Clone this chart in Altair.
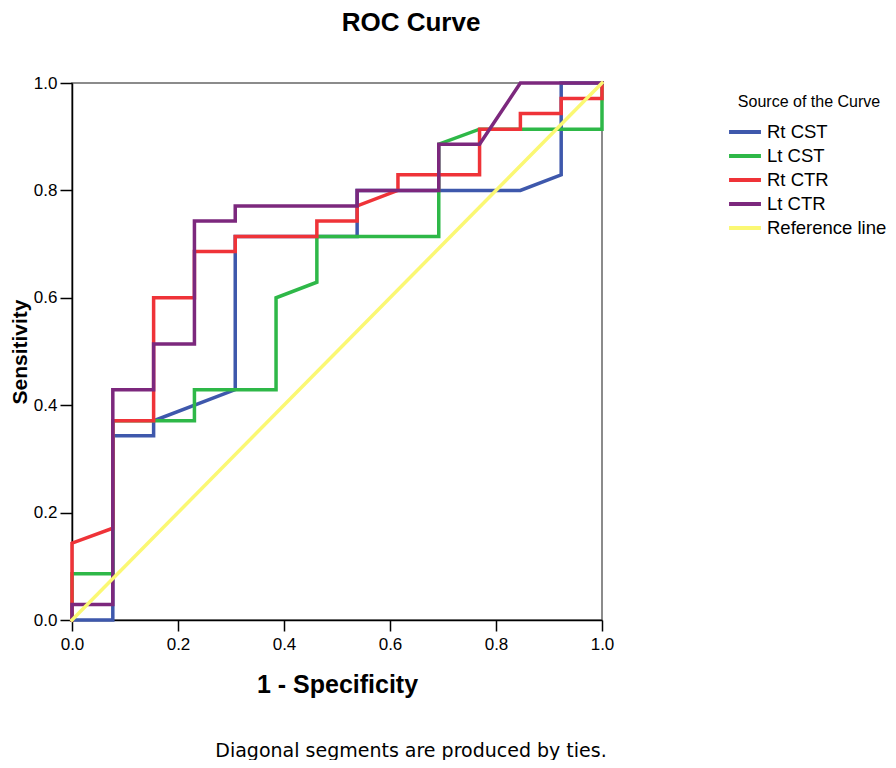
import altair as alt
import pandas as pd

# ---- data ----
series = ["Rt CST", "Lt CST", "Rt CTR", "Lt CTR", "Reference line"]
colors = ["#3e58ac", "#2eb848", "#ef3338", "#7c287d", "#fbf873"]

rt_cst_x = [0, 0.077, 0.077, 0.154, 0.154, 0.308, 0.308, 0.538, 0.538, 0.846, 0.923, 0.923, 1.0]
rt_cst_y = [0, 0, 0.343, 0.343, 0.371, 0.429, 0.714, 0.714, 0.8, 0.8, 0.829, 1.0, 1.0]

lt_cst_x = [0, 0, 0.077, 0.077, 0.231, 0.231, 0.385, 0.385, 0.462, 0.462, 0.692, 0.692, 0.769, 1.0, 1.0]
lt_cst_y = [0, 0.086, 0.086, 0.371, 0.371, 0.429, 0.429, 0.6, 0.629, 0.714, 0.714, 0.886, 0.914, 0.914, 1.0]

rt_ctr_x = [0, 0, 0.077, 0.077, 0.154, 0.154, 0.231, 0.231, 0.308, 0.308, 0.462, 0.462,
            0.538, 0.538, 0.615, 0.615, 0.769, 0.769, 0.846, 0.846, 0.923, 0.923, 1.0, 1.0]
rt_ctr_y = [0, 0.143, 0.171, 0.371, 0.371, 0.6, 0.6, 0.686, 0.686, 0.714, 0.714, 0.743,
            0.743, 0.771, 0.8, 0.829, 0.829, 0.914, 0.914, 0.943, 0.943, 0.971, 0.971, 1.0]

lt_ctr_x = [0, 0, 0.077, 0.077, 0.154, 0.154, 0.231, 0.231, 0.308, 0.308, 0.538, 0.538,
            0.692, 0.692, 0.769, 0.846, 1.0]
lt_ctr_y = [0, 0.029, 0.029, 0.429, 0.429, 0.514, 0.514, 0.743, 0.743, 0.771, 0.771, 0.8,
            0.8, 0.886, 0.886, 1.0, 1.0]

ref_x = [0, 1.0]
ref_y = [0, 1.0]

tick_values = [0.0, 0.2, 0.4, 0.6, 0.8, 1.0]

rows = []
for name, xs, ys in zip(series,
                        [rt_cst_x, lt_cst_x, rt_ctr_x, lt_ctr_x, ref_x],
                        [rt_cst_y, lt_cst_y, rt_ctr_y, lt_ctr_y, ref_y]):
    for i, (a, b) in enumerate(zip(xs, ys)):
        rows.append({"series": name, "fpr": a, "sens": b, "step": i})
df = pd.DataFrame(rows)

FONT = "Liberation Sans"

lines = alt.Chart(df).mark_line(strokeWidth=3.5, strokeJoin="miter", strokeCap="square").encode(
    x=alt.X("fpr:Q",
            scale=alt.Scale(domain=[0, 1], nice=False, zero=False),
            axis=alt.Axis(title="1 - Specificity", values=tick_values, format=".1f",
                          grid=False, tickSize=11, tickWidth=1.5, tickColor="#000",
                          domainColor="#000", domainWidth=1.5,
                          labelFont=FONT, labelFontSize=17, labelColor="#000", labelPadding=5,
                          labelFlush=False,
                          titleFont=FONT, titleFontSize=25, titleFontWeight="bold",
                          titleColor="#000", titlePadding=20)),
    y=alt.Y("sens:Q",
            scale=alt.Scale(domain=[0, 1], nice=False, zero=False),
            axis=alt.Axis(title="Sensitivity", values=tick_values, format=".1f",
                          grid=False, tickSize=12, tickWidth=1.5, tickColor="#000",
                          domainColor="#000", domainWidth=1.5,
                          labelFont=FONT, labelFontSize=17, labelColor="#000", labelPadding=3,
                          labelFlush=False,
                          titleFont=FONT, titleFontSize=21, titleFontWeight="bold",
                          titleColor="#000", titlePadding=3)),
    color=alt.Color("series:N",
                    scale=alt.Scale(domain=series, range=colors),
                    sort=series,
                    legend=alt.Legend(title="Source of the Curve", orient="none",
                                      legendX=659, legendY=11, padding=0,
                                      symbolType="M-1.33,0H1.33", symbolSize=576,
                                      symbolStrokeWidth=4, labelFont=FONT,
                                      labelFontSize=18.5, labelColor="#000", labelOffset=8,
                                      titleFont=FONT, titleFontSize=16,
                                      titleFontWeight="normal", titleColor="#000",
                                      titleAnchor="middle", titlePadding=8, rowPadding=0)),
    order=alt.Order("step:Q"),
)

footer_df = pd.DataFrame({"note": ["Diagonal segments are produced by ties."]})
footer = alt.Chart(footer_df).mark_text(
    font="DejaVu Sans", fontSize=19, color="#000", align="center", baseline="alphabetic"
).encode(text="note:N", x=alt.value(339), y=alt.value(674))

chart = alt.layer(lines, footer).properties(
    width=530, height=537,
    autosize="none",
    padding={"left": 64, "top": 75, "right": 286, "bottom": 140},
    title=alt.TitleParams(text="ROC Curve", font=FONT, fontSize=26, fontWeight="bold",
                          color="#000", anchor="middle", frame="group", dx=74, offset=38),
).configure_view(stroke="#666", strokeWidth=1.5)

chart.save("out.html", embed_options={"renderer": "svg", "actions": False})
